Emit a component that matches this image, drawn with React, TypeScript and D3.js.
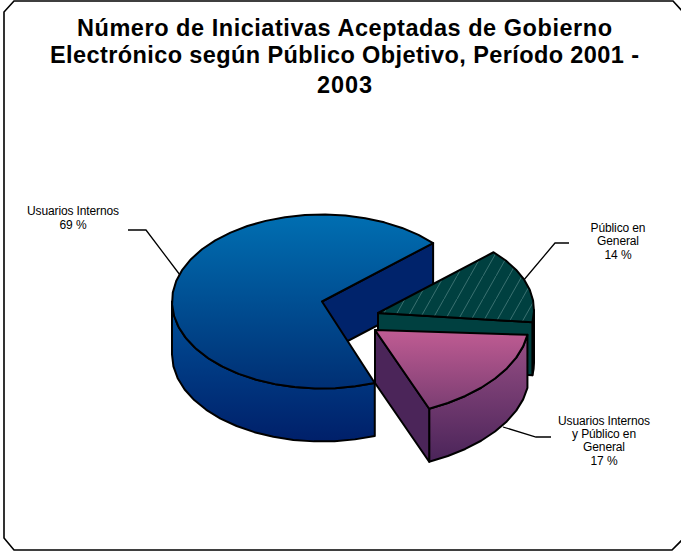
import React from "react";
import * as d3 from "d3";

const titleLines = ["Número de Iniciativas Aceptadas de Gobierno", "Electrónico según Público Objetivo, Período 2001 -", "2003"];
const titleWidths = [535, 589, 55];
const titleBaselines = [36, 63, 93];
const categories = ["Usuarios Internos", "Público en General", "Usuarios Internos y Público en General"];
const values = [69, 14, 17];
const startDeg = 159.4;
const explodeX = [0, 56, 53];
const explodeY = [0, 11.5, 28.5];
const shears = [0, -0.02, -0.05];
const radiiX = [150, 156, 154];
const cx = 322, cy = 301.5, ry = 87, depth = 53;
const labelLines = [["Usuarios Internos", "69 %"], ["Público en", "General", "14 %"], ["Usuarios Internos", "y Público en", "General", "17 %"]];
const labelX = [73, 618, 604];
const labelY = [[215, 229], [232, 245, 259], [425, 438, 451, 465]];
const leaders: [number, number][][] = [
  [[180, 275], [146, 230], [128, 230]],
  [[523, 281], [555, 243], [569, 243]],
  [[503, 427], [536, 437], [551, 437]],
];
const frame: [number, number][] = [[14, 1], [673, 1], [684, 13], [684, 538], [672, 550], [14, 550], [4, 538], [4, 12]];
const topFill = ["url(#blueTop)", "url(#hatch)", "url(#pinkTop)"];
const wallFill = ["url(#blueWall)", "#004040", "url(#pinkWall)"];
const faceFill = ["#00236b", "#004040", "#4b2559"];

export default function App() {
  const arcs = d3.pie<number>().sort(null).value(d => d)
    .startAngle(startDeg * Math.PI / 180).endAngle(startDeg * Math.PI / 180 + 2 * Math.PI)(values);
  const line = d3.line<[number, number]>();
  const steps = 8 * Math.PI / 180;
  const turn = 2 * Math.PI;

  const slices = arcs.map((a, i) => {
    const ox = cx + explodeX[i], oy = cy + explodeY[i];
    const pt = (t: number, dz = 0): [number, number] => {
      const dx = radiiX[i] * Math.sin(t);
      return [ox + dx, oy - ry * Math.cos(t) + shears[i] * dx + dz];
    };
    const arcPts = (t0: number, t1: number, dz = 0) => {
      const n = Math.max(1, Math.ceil((t1 - t0) / steps));
      return d3.range(n + 1).map(k => pt(t0 + (t1 - t0) * k / n, dz));
    };
    const apex: [number, number] = [ox, oy];
    const top = [apex, ...arcPts(a.startAngle, a.endAngle)];
    const shift = a.startAngle >= turn ? turn : 0;
    const w0 = Math.max(a.startAngle - shift, Math.PI / 2);
    const w1 = Math.min(a.endAngle - shift, 1.5 * Math.PI);
    const wall = w1 > w0 ? [...arcPts(w0, w1), ...arcPts(w0, w1, depth).reverse()] : [];
    const e = pt(a.endAngle), ed = pt(a.endAngle, depth);
    const face: [number, number][] = [apex, e, ed, [ox, oy + depth]];
    return { i, top, wall, face };
  });

  return (
    <svg width={681} height={551} style={{ position: "absolute", left: 0, top: 0 }}>
      <defs>
        <linearGradient id="blueTop" gradientUnits="userSpaceOnUse" x1="0" x2="0" y1="214" y2="388">
          <stop offset="0" stopColor="#006fb2" /><stop offset="1" stopColor="#002f74" />
        </linearGradient>
        <linearGradient id="blueWall" gradientUnits="userSpaceOnUse" x1="0" x2="0" y1="300" y2="440">
          <stop offset="0" stopColor="#00529a" /><stop offset="1" stopColor="#00206a" />
        </linearGradient>
        <linearGradient id="pinkTop" gradientUnits="userSpaceOnUse" x1="0" x2="0" y1="330" y2="410">
          <stop offset="0" stopColor="#c05c93" /><stop offset="1" stopColor="#7a3d72" />
        </linearGradient>
        <linearGradient id="pinkWall" gradientUnits="userSpaceOnUse" x1="0" x2="0" y1="350" y2="462">
          <stop offset="0" stopColor="#8f4a80" /><stop offset="1" stopColor="#4a2459" />
        </linearGradient>
        <pattern id="hatch" patternUnits="userSpaceOnUse" width="13" height="23" patternTransform="translate(2 0)">
          <rect width="13" height="23" fill="#004040" />
          <line x1="0" y1="23" x2="13" y2="0" stroke="#5f9090" strokeWidth="0.6" />
        </pattern>
      </defs>
      <rect x="0" y="0" width="681" height="551" fill="#fff" />
      <path d={(line(frame) ?? "") + "Z"} fill="#fff" stroke="#000" strokeWidth="1.6" />
      {titleLines.map((t, i) => (
        <text key={t} x={344.5} y={titleBaselines[i]} textAnchor="middle" textLength={titleWidths[i]} lengthAdjust="spacing"
          style={{ font: "bold 23.5px 'Liberation Sans', sans-serif" }} fill="#000">{t}</text>
      ))}
      {leaders.map((l, i) => (
        <path key={categories[i]} d={line(l) ?? ""} fill="none" stroke="#000" strokeWidth="1.3" />
      ))}
      {slices.map(s => (
        <g key={s.i} stroke="#000" strokeWidth="2" strokeLinejoin="round">
          {s.wall.length > 0 && <path d={(line(s.wall as [number, number][]) ?? "") + "Z"} fill={wallFill[s.i]} />}
          <path d={(line(s.face) ?? "") + "Z"} fill={faceFill[s.i]} />
          <path d={(line(s.top as [number, number][]) ?? "") + "Z"} fill={topFill[s.i]} />
        </g>
      ))}
      {labelLines.map((ls, i) => ls.map((t, j) => (
        <text key={i + "-" + j} x={labelX[i]} y={labelY[i][j]} textAnchor="middle"
          style={{ font: "12px 'Liberation Sans', sans-serif", letterSpacing: "-0.12px" }} fill="#000">{t}</text>
      )))}
    </svg>
  );
}
